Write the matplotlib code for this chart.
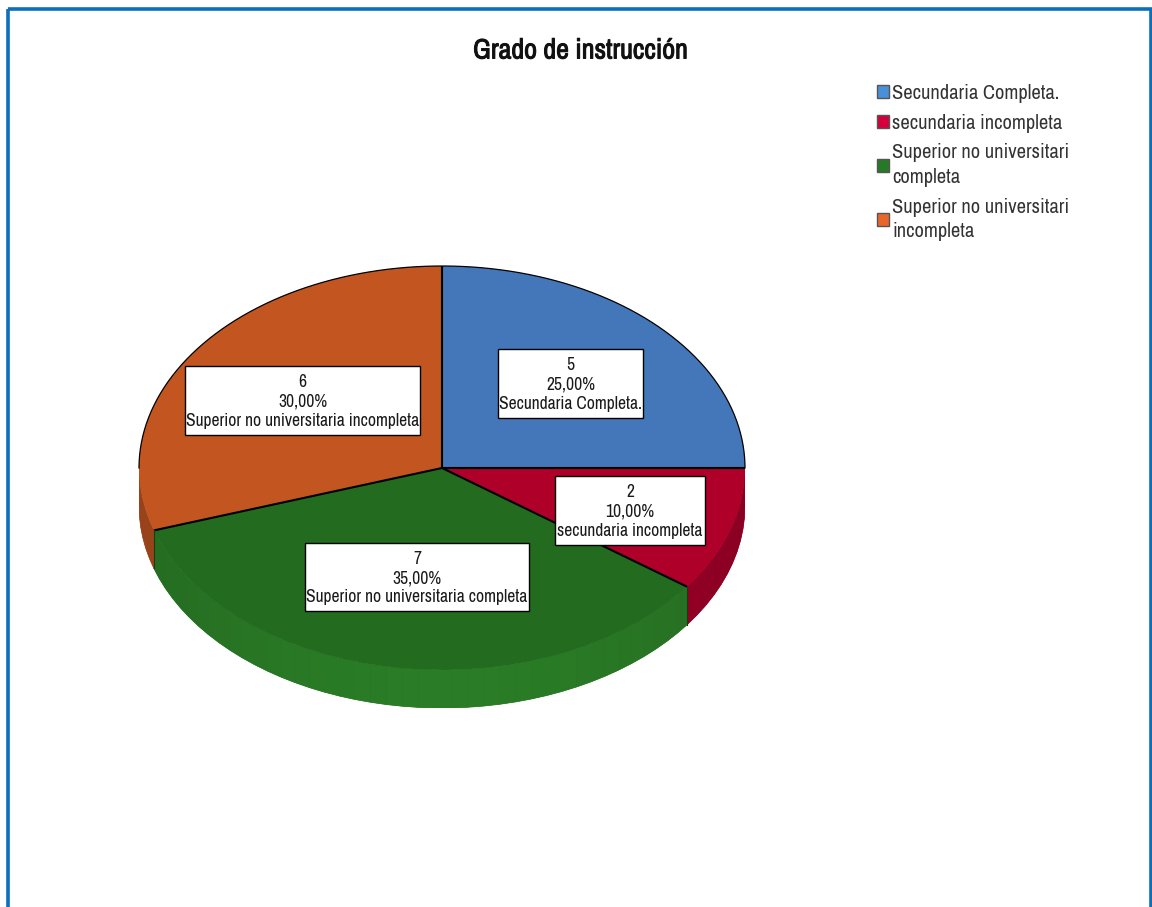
import numpy as np
import matplotlib
matplotlib.use("Agg")
import matplotlib.pyplot as plt
import matplotlib.patheffects as pe
from matplotlib.patches import Patch, Rectangle, Polygon

plt.rcParams['font.family'] = ['Archivo Narrow', 'Liberation Sans', 'DejaVu Sans']

title = "Grado de instrucción"
categories = ["Secundaria Completa.", "secundaria incompleta",
              "Superior no universitaria completa", "Superior no universitaria incompleta"]
legend_labels = ["Secundaria Completa.", "secundaria incompleta",
                 "Superior no universitari\ncompleta", "Superior no universitari\nincompleta"]
counts = [5, 2, 7, 6]
percents = ["25,00%", "10,00%", "35,00%", "30,00%"]
top_colors = ["#4477b9", "#ae0029", "#226b1f", "#c25520"]
side_colors = ["#3a659d", "#a00028", "#2a7c26", "#b04d1e"]
legend_colors = ["#4a90d9", "#d4003c", "#277a25", "#e8662a"]
border_color = "#0a70bd"

# label boxes in pixels: left, top, right, bottom
label_boxes = [(498, 349, 643, 418), (555, 476, 705, 545), (305, 543, 529, 611), (185, 366, 420, 435)]

W, H = 1152, 907
fig = plt.figure(figsize=(W / 100, H / 100), dpi=100, facecolor="white")

bg = fig.add_axes([0, 0, 1, 1], zorder=2)
bg.set_xlim(0, W); bg.set_ylim(H, 0); bg.axis("off")
bg.patch.set_alpha(0)
bg.add_patch(Rectangle((7.5, 8.5), W - 7.5 - 1.5, H + 20, fill=False, ec=border_color, lw=2.6))

cx, cy, rx, ry, depth = 442, 468, 303, 202, 38
ax = fig.add_axes([(cx - rx) / W, 1 - (cy + ry + depth) / H, 2 * rx / W, (2 * ry + depth) / H], zorder=1)
d = depth / ry

frac = np.array(counts, dtype=float) / sum(counts)
edges = np.concatenate([[0], np.cumsum(frac) * 360])

def pt(a):
    r = np.radians(a)
    return np.sin(r), np.cos(r)

for i, col in enumerate(side_colors):
    lo, hi = max(edges[i], 90), min(edges[i + 1], 270)
    if hi <= lo:
        continue
    base = np.array(matplotlib.colors.to_rgb(col))
    angs = np.linspace(lo, hi, max(int(hi - lo) // 3 + 1, 2))
    xs, ys = pt(angs)
    outline = list(zip(xs, ys)) + list(zip(xs[::-1], ys[::-1] - d))
    ax.add_patch(Polygon(outline, fc=base * 0.92, ec=base * 0.92, lw=0.5))
    for a0, a1 in zip(angs[:-1], angs[1:]):
        x0, y0 = pt(a0); x1, y1 = pt(a1)
        mid = np.radians((a0 + a1) / 2)
        shade = 0.86 + 0.14 * max(0, -np.cos(mid)) ** 2
        ax.add_patch(Polygon([(x0, y0), (x1, y1), (x1, y1 - d), (x0, y0 - d)],
                             fc=base * shade, ec="none", lw=0))

ax.pie(counts, colors=top_colors, startangle=90, counterclock=False, radius=1,
       wedgeprops=dict(lw=0), normalize=True)
ax.set_aspect("auto")
ax.set_xlim(-1, 1)
ax.set_ylim(-1 - d, 1)
ax.axis("off")

for e in edges[:-1]:
    x, y = pt(e)
    ax.plot([0, x], [0, y], color="black", lw=1.5, solid_capstyle="butt", clip_on=False)
rim = np.radians(np.linspace(270, 450, 200))
ax.plot(np.sin(rim), np.cos(rim), color="black", lw=0.9, clip_on=False)
for e in edges[1:-1]:
    x, y = pt(e)
    if y < 0:
        ax.plot([x, x], [y, y - d], color="#14400f", lw=0.8, clip_on=False)

for c, n, p, (x0, y0, x1, y1) in zip(categories, counts, percents, label_boxes):
    bg.add_patch(Rectangle((x0, y0), x1 - x0, y1 - y0, fc="white", ec="black", lw=1.0))
    bg.text((x0 + x1) / 2, (y0 + y1) / 2 + 1, f"{n}\n{p}\n{c}", ha="center", va="center",
            fontsize=12.6, linespacing=1.26, color="#1a1a1a")

bg.text(580, 51, title, ha="center", va="center", fontsize=20.2, color="#111111",
        path_effects=[pe.withStroke(linewidth=0.7, foreground="#111111")])

handles = [Patch(fc=c, ec="#555555", lw=1) for c in legend_colors]
leg = bg.legend(handles, legend_labels, loc="upper left", bbox_to_anchor=(877, 84), bbox_transform=bg.transData,
                frameon=False, fontsize=14.7, labelspacing=0.52, handlelength=0.6, handleheight=0.6,
                handletextpad=0.15, borderpad=0, borderaxespad=0, labelcolor="#333333")
for t in leg.get_texts():
    t.set_linespacing(1.38)

fig.savefig("out.png", dpi=100)
